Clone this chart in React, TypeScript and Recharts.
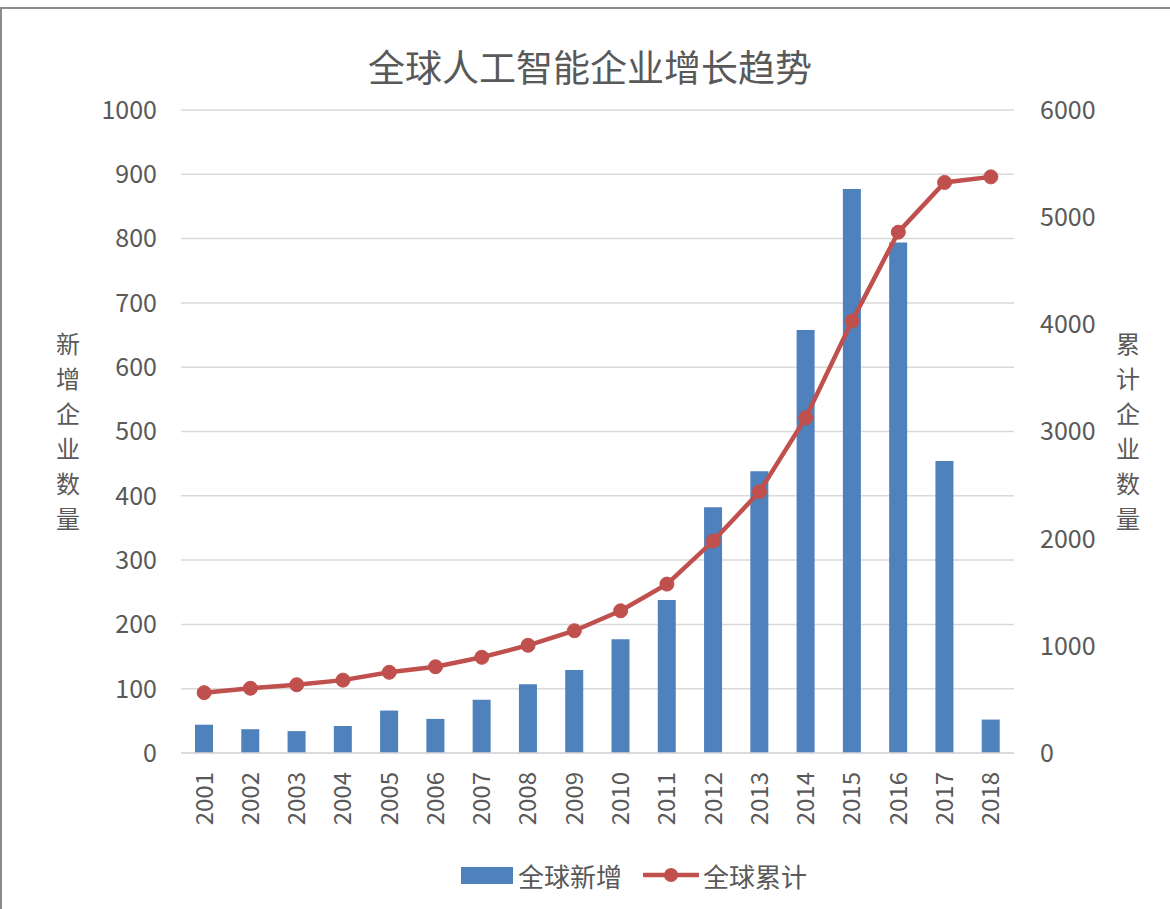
import React from 'react';
import {
  ComposedChart,
  Bar,
  Line,
  XAxis,
  YAxis,
  CartesianGrid,
} from 'recharts';

// values
const years = [
  '2001', '2002', '2003', '2004', '2005', '2006', '2007', '2008', '2009',
  '2010', '2011', '2012', '2013', '2014', '2015', '2016', '2017', '2018',
];
const newCompanies = [44, 37, 34, 42, 66, 53, 83, 107, 129, 177, 238, 382, 438, 658, 877, 794, 454, 52];
const cumulative = [563, 604, 637, 680, 753, 805, 893, 1005, 1141, 1327, 1576, 1978, 2438, 3128, 4030, 4860, 5324, 5376];
const leftTicks = [0, 100, 200, 300, 400, 500, 600, 700, 800, 900, 1000];
const rightTicks = [0, 1000, 2000, 3000, 4000, 5000, 6000];

const TEXT = '#595959';
const BLUE = '#4f81bd';
const RED = '#c0504d';

const chartData = years.map((year, i) => ({
  year,
  added: newCompanies[i],
  total: cumulative[i],
}));

const YearTick = ({ x, y, payload }: any) => (
  <text
    transform={`translate(${x},${y}) rotate(-90)`}
    x={0}
    y={0}
    dy="0.35em"
    textAnchor="end"
    fill={TEXT}
    fontSize={24}
  >
    {payload.value}
  </text>
);

// axis titles are stacked one character per line
const VerticalTitle = ({ text, left }: { text: string; left: number }) => (
  <div
    style={{
      position: 'absolute',
      left,
      top: 325,
      width: 40,
      textAlign: 'center',
      fontSize: 24,
      lineHeight: '35px',
      color: TEXT,
    }}
  >
    {text.split('').map((ch, i) => (
      <div key={i} style={{ height: 35 }}>{ch}</div>
    ))}
  </div>
);

export default function App() {
  return (
    <div
      style={{
        position: 'absolute',
        left: 0,
        top: 0,
        width: 1170,
        height: 909,
        overflow: 'hidden',
        background: '#fff',
        fontFamily: "'Noto Sans CJK SC', 'Noto Sans', sans-serif",
      }}
    >
      {/* frame */}
      <div
        style={{
          position: 'absolute',
          left: 0,
          top: 7,
          width: 1200,
          height: 1000,
          border: '2px solid #8c8c8c',
        }}
      />

      <div
        style={{
          position: 'absolute',
          left: 0,
          top: 44,
          width: 1180,
          textAlign: 'center',
          fontSize: 37,
          lineHeight: '44px',
          color: TEXT,
        }}
      >
        全球人工智能企业增长趋势
      </div>

      <VerticalTitle text="新增企业数量" left={48} />
      <VerticalTitle text="累计企业数量" left={1108} />

      <div style={{ position: 'absolute', left: 0, top: 0 }}>
        <ComposedChart
          width={1170}
          height={909}
          data={chartData}
          margin={{ top: 110, right: 0, bottom: 66, left: 0 }}
        >
          <CartesianGrid
            yAxisId="left"
            vertical={false}
            stroke="#d9d9d9"
            strokeWidth={1.5}
          />
          <XAxis
            dataKey="year"
            height={90}
            axisLine={{ stroke: '#d9d9d9', strokeWidth: 1.5 }}
            tickLine={false}
            tickSize={0}
            tickMargin={19}
            interval={0}
            tick={<YearTick />}
          />
          <YAxis
            yAxisId="left"
            width={181}
            domain={[0, 1000]}
            ticks={leftTicks}
            axisLine={false}
            tickLine={false}
            tickSize={0}
            tickMargin={24}
            tick={{ fill: TEXT, fontSize: 25 }}
          />
          <YAxis
            yAxisId="right"
            orientation="right"
            width={156}
            domain={[0, 6000]}
            ticks={rightTicks}
            axisLine={false}
            tickLine={false}
            tickSize={0}
            tickMargin={26}
            tick={{ fill: TEXT, fontSize: 25 }}
          />
          <Bar
            yAxisId="left"
            dataKey="added"
            name="全球新增"
            fill={BLUE}
            barSize={18}
            isAnimationActive={false}
          />
          <Line
            yAxisId="right"
            type="linear"
            dataKey="total"
            name="全球累计"
            stroke={RED}
            strokeWidth={4.5}
            dot={{ r: 7, fill: RED, stroke: RED, strokeWidth: 1 }}
            isAnimationActive={false}
          />
        </ComposedChart>
      </div>

      {/* legend */}
      <div
        style={{
          position: 'absolute',
          left: 461,
          top: 858,
          height: 34,
          display: 'flex',
          alignItems: 'center',
          fontSize: 26,
          color: TEXT,
        }}
      >
        <div style={{ width: 52, height: 17, background: BLUE, marginRight: 5 }} />
        <span>全球新增</span>
        <svg width={56} height={20} style={{ marginLeft: 21, marginRight: 4 }}>
          <line x1={1} y1={10} x2={55} y2={10} stroke={RED} strokeWidth={4.5} strokeLinecap="round" />
          <circle cx={28} cy={10} r={7} fill={RED} />
        </svg>
        <span>全球累计</span>
      </div>
    </div>
  );
}
